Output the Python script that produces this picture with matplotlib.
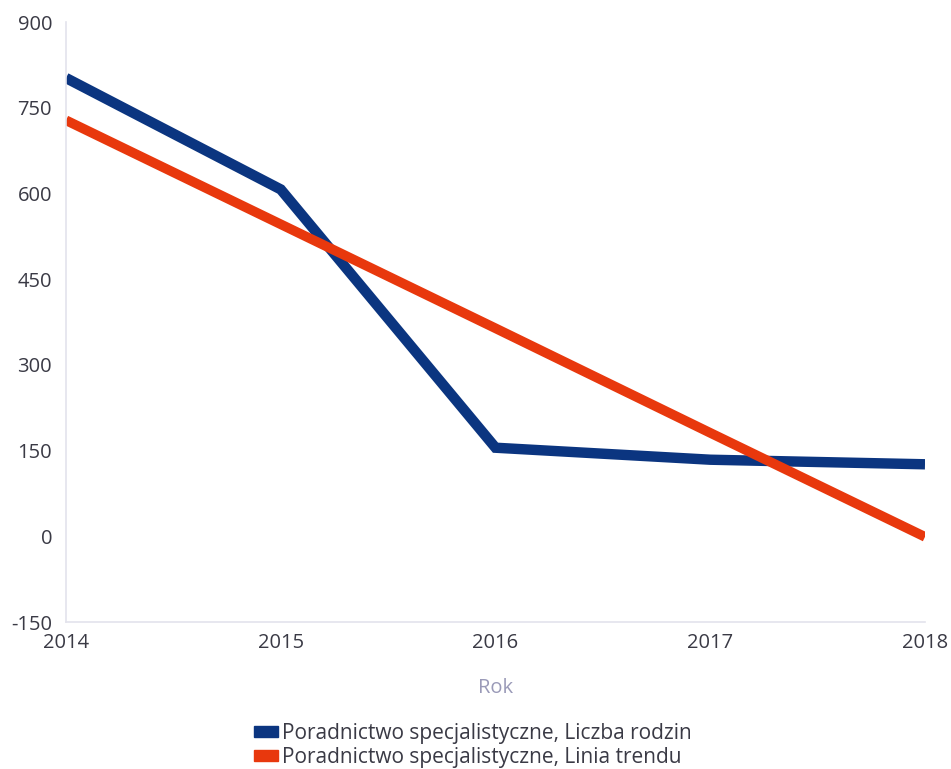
import matplotlib.pyplot as plt
from matplotlib.patches import Patch

years = [2014, 2015, 2016, 2017, 2018]
liczba_rodzin = [802, 607, 155, 134, 126]
linia_trendu = [728, 546, 364, 181, -1]
y_ticks = [-150, 0, 150, 300, 450, 600, 750, 900]

blue = "#0b3580"
red = "#e8380d"

fig = plt.figure(figsize=(9.51, 7.69), dpi=100)
ax = fig.add_axes([66 / 951, 1 - 622 / 769, (925 - 66) / 951, (622 - 22) / 769])

ax.plot(years, liczba_rodzin, color=blue, lw=7.5, solid_capstyle="butt",
        solid_joinstyle="miter", label="Poradnictwo specjalistyczne, Liczba rodzin")
ax.plot(years, linia_trendu, color=red, lw=7, solid_capstyle="butt",
        label="Poradnictwo specjalistyczne, Linia trendu")

ax.set_xlim(2014, 2018)
ax.set_ylim(-150, 900)
ax.set_xticks(years)
ax.set_xticklabels([str(y) for y in years], family="Open Sans", fontsize=14.5, color="#3a3a45")
ax.set_yticks(y_ticks)
ax.set_yticklabels([str(v) for v in y_ticks], family="Open Sans", fontsize=14.5, color="#3a3a45")
ax.tick_params(axis="both", length=0)
ax.tick_params(axis="y", pad=10)
ax.tick_params(axis="x", pad=8)

for s in ["top", "right"]:
    ax.spines[s].set_visible(False)
for s in ["left", "bottom"]:
    ax.spines[s].set_color("#e3e3ec")
    ax.spines[s].set_linewidth(1.2)

ax.set_xlabel("Rok", family="Open Sans", fontsize=14.5, color="#9a9ab8", labelpad=18)

# legend with small rectangular swatches
handles = [Patch(color=blue), Patch(color=red)]
labels = ["Poradnictwo specjalistyczne, Liczba rodzin",
          "Poradnictwo specjalistyczne, Linia trendu"]
leg = fig.legend(handles, labels, loc="upper left", bbox_to_anchor=(235 / 951, 1 - 704 / 769),
                 frameon=False, handlelength=1.15, handleheight=0.4, handletextpad=0.2,
                 labelspacing=0.15, prop={"family": "Open Sans", "size": 15})
for t in leg.get_texts():
    t.set_color("#3a3a45")

fig.savefig("out.png", dpi=100)
